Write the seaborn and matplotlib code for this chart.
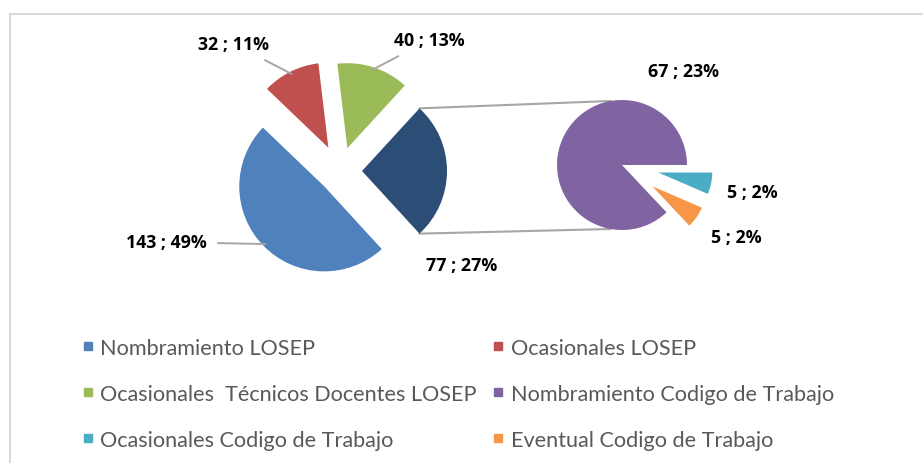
import numpy as np
import matplotlib
matplotlib.use("Agg")
from matplotlib import pyplot as plt
from matplotlib.lines import Line2D
from matplotlib.patches import Rectangle
import seaborn as sns

# datos del grafico (pie de pie)
main_labels = ["Nombramiento LOSEP", "Ocasionales LOSEP", "Ocasionales  Técnicos Docentes LOSEP"]
main_values = [143, 32, 40]
main_pct = [49, 11, 13, 27]   # ultimo = "otros" (segundo pie)
sub_labels = ["Nombramiento Codigo de Trabajo", "Ocasionales Codigo de Trabajo", "Eventual Codigo de Trabajo"]
sub_values = [67, 5, 5]
sub_pct = [23, 2, 2]

main_colors = ["#4f81bd", "#c0504d", "#9bbb59"]
other_color = "#2c4d75"
sub_colors = ["#8064a2", "#4bacc6", "#f79646"]

W, H = 923, 464
sns.set_style('white')
plt.rcParams['font.family'] = ['Lato', 'DejaVu Sans']

fig = plt.figure(figsize=(W / 100, H / 100), dpi=100)
ax = fig.add_axes([0, 0, 1, 1])

'''pie principal'''
total = sum(main_values) + sum(sub_values)
vals = main_values + [sum(sub_values)]
start = -180 * sum(sub_values) / total
w_main, _ = ax.pie(vals, colors=main_colors + [other_color], startangle=start, counterclock=False,
                   center=(340, H - 172), radius=85, explode=[22, 26, 24, 22],
                   wedgeprops=dict(linewidth=0))

'''pie secundario'''
sub_start = -360 * sum(sub_values[1:]) / sum(sub_values)
w_sub, _ = ax.pie(sub_values, colors=sub_colors, startangle=sub_start, counterclock=False,
                  center=(622, H - 166), radius=65, explode=[0, 37, 37],
                  wedgeprops=dict(linewidth=0))
for w in w_sub[1:]:
    w.set_radius(54)

ax.set_xlim(0, W)
ax.set_ylim(0, H)
ax.set_aspect('equal')
ax.axis('off')

'''lineas de conexion'''
d = w_main[3]
sc, sr = w_sub[0].center, w_sub[0].r
for th_main, th_sub in [(d.theta2, 100), (d.theta1, 260)]:
    p = (d.center[0] + d.r * np.cos(np.deg2rad(th_main)), d.center[1] + d.r * np.sin(np.deg2rad(th_main)))
    q = (sc[0] + sr * np.cos(np.deg2rad(th_sub)), sc[1] + sr * np.sin(np.deg2rad(th_sub)))
    ax.plot([p[0], q[0]], [p[1], q[1]], color='#a6a6a6', lw=1.5, zorder=0)

'''etiquetas'''
def arc_mid(w):
    t = np.deg2rad((w.theta1 + w.theta2) / 2)
    return (w.center[0] + 0.97 * w.r * np.cos(t), w.center[1] + 0.97 * w.r * np.sin(t))

main_pos = [(166, 243), (234, 45), (429, 41), (462, 266)]
sub_pos = [(683, 72), (752, 193), (736, 238)]
lab_kw = dict(fontsize=12.8, fontweight='bold', family=['Open Sans', 'DejaVu Sans'],
              color='black', ha='center', va='center')
for i, (v, p) in enumerate(zip(vals, main_pct)):
    x, y = main_pos[i]
    if i < 3:
        ax.annotate(f"{v} ; {p}%", xy=arc_mid(w_main[i]), xytext=(x, H - y),
                    arrowprops=dict(arrowstyle='-', color='#a6a6a6', lw=1.4, shrinkA=6, shrinkB=0),
                    **lab_kw)
    else:
        ax.text(x, H - y, f"{v} ; {p}%", **lab_kw)
for i, (v, p) in enumerate(zip(sub_values, sub_pct)):
    x, y = sub_pos[i]
    ax.text(x, H - y, f"{v} ; {p}%", **lab_kw)

'''leyenda'''
all_labels = main_labels + sub_labels
all_colors = main_colors + sub_colors
handles = [Line2D([], [], marker='s', ls='', color=c, markersize=6) for c in all_colors]
order = [0, 2, 4, 1, 3, 5]
fig.legend([handles[i] for i in order], [all_labels[i] for i in order],
           loc='upper left', bbox_to_anchor=(81 / W, 1 - 339 / H), ncol=2, frameon=False,
           fontsize=15.6, handlelength=0.6, handletextpad=0.3, labelspacing=1.2,
           columnspacing=0.65, borderpad=0, borderaxespad=0, labelcolor='#595959')

'''marco'''
fig.add_artist(Rectangle((10 / W, -0.1), 1.2, (H - 15) / H + 0.1, transform=fig.transFigure,
                         fill=False, ec='#d9d9d9', lw=1.5))

fig.savefig('out.png', dpi=100)
